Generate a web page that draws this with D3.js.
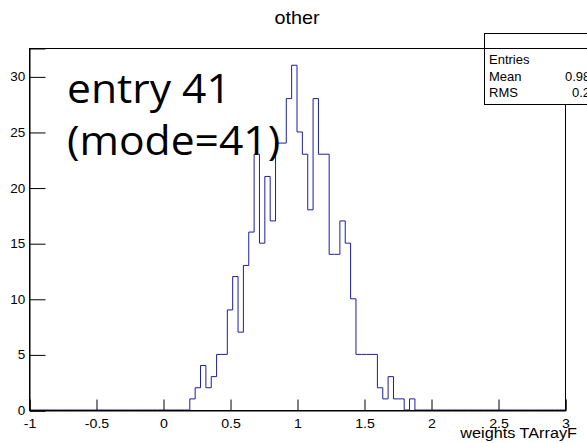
<!DOCTYPE html>
<html><head><meta charset="utf-8">
<script src="https://cdn.jsdelivr.net/npm/d3@7"></script>
<style>body{margin:0;background:#fff} svg{display:block}</style>
</head><body><svg id="c" width="587" height="443"></svg>
<script>
// ---- data ----
const binLow = -1, binHigh = 3, nBins = 100;
const firstFilledBin = 30;
const counts = [1,2,4,2,3,5,5,9,12,7,13,16,23,15,21,17,24,24,28,31,25,23,18,28,23,23,14,14,17,15,10,5,5,5,5,2,1,3,1,1,0,1];
const xTicks = [-1,-0.5,0,0.5,1,1.5,2,2.5,3];
const yTicks = [0,5,10,15,20,25,30];
const title = "other";
const xTitle = "weights TArrayF";
const noteLines = ["entry 41","(mode=41)"];
const statLabels = ["Entries","Mean","RMS"];

// ---- derived ----
const bw = (binHigh - binLow) / nBins;
const bins = d3.range(nBins).map(i => {
  const j = i - firstFilledBin;
  return {lo: binLow + i*bw, hi: binLow + (i+1)*bw, c: (j >= 0 && j < counts.length) ? counts[j] : 0};
});
const N = d3.sum(bins, b => b.c);
const mean = d3.sum(bins, b => b.c*(b.lo+b.hi)/2) / N;
const rms = Math.sqrt(d3.sum(bins, b => b.c*Math.pow((b.lo+b.hi)/2 - mean, 2)) / N);
const ymax = d3.max(bins, b => b.c) * 1.05;

const svg = d3.select("#c");
const L = 29, R = 565, T = 48, B = 410;
const x = d3.scaleLinear().domain([binLow, binHigh]).range([L, R]);
const y = d3.scaleLinear().domain([0, ymax]).range([B, T]);
const font = "'Liberation Sans', Arial, Helvetica, sans-serif";

function stretchText(sel, px, py, sx, txt) {
  return sel.append("text").attr("transform", `translate(${px},${py}) scale(${sx},1)`).text(txt);
}

// histogram outline
const pts = [[binLow, 0]];
bins.forEach(b => { pts.push([b.lo, b.c]); pts.push([b.hi, b.c]); });
pts.push([binHigh, 0]);
svg.append("path")
  .attr("d", d3.line().x(d => x(d[0])).y(d => y(d[1]))(pts))
  .attr("fill", "none").attr("stroke", "#1c1ca8").attr("stroke-width", 1);

// frame
svg.append("rect").attr("x", L+0.5).attr("y", T+0.5).attr("width", R-L).attr("height", B-T)
  .attr("fill", "none").attr("stroke", "#000").attr("stroke-width", 1);

// x axis
const gx = svg.append("g").attr("transform", `translate(0.5,${B+0.5})`);
gx.call(d3.axisBottom(x).tickValues(d3.range(-1, 3.0001, 0.1)).tickSize(-5.5).tickFormat(""));
gx.call(d3.axisBottom(x).tickValues(xTicks).tickSize(-11).tickPadding(8.5).tickFormat(d => String(d)));
gx.selectAll(".domain").attr("stroke", "#000");
gx.selectAll("line").attr("stroke", "#000");
gx.selectAll("text").attr("font-family", font).attr("font-size", 12).attr("fill", "#000")
  .attr("transform", "scale(1.18,1)");

// y axis
const gy = svg.append("g").attr("transform", `translate(${L+0.5},0.5)`);
gy.call(d3.axisLeft(y).tickValues(d3.range(0, Math.floor(ymax)+1, 1)).tickSize(-7).tickFormat(""));
gy.call(d3.axisLeft(y).tickValues(yTicks).tickSize(-16).tickPadding(4).tickFormat(d => String(d)));
gy.selectAll(".domain").attr("stroke", "#000");
gy.selectAll("line").attr("stroke", "#000");
gy.selectAll("text").attr("font-family", font).attr("font-size", 12.5).attr("fill", "#000")
  .attr("transform", "scale(1.08,1)");

// titles
stretchText(svg, 297, 24, 1.1, title).attr("text-anchor", "middle")
  .attr("font-family", font).attr("font-size", 18);
stretchText(svg, 577, 438, 1.16, xTitle).attr("text-anchor", "end")
  .attr("font-family", font).attr("font-size", 14);

// annotation
noteLines.forEach((t, i) => {
  stretchText(svg, 67, 103 + i*52, 1.065, t)
    .attr("font-family", "'Open Sans', sans-serif").attr("font-size", 40).attr("fill", "#000");
});

// stats box
svg.append("rect").attr("x", 484.5).attr("y", 33.5).attr("width", 120).attr("height", 71)
  .attr("fill", "#fff").attr("stroke", "#000");
svg.append("line").attr("x1", 484).attr("x2", 600).attr("y1", 48.5).attr("y2", 48.5).attr("stroke", "#000");
const statVals = [String(N), d3.format(".4f")(mean), d3.format(".4f")(rms)];
const statValX = [592, 565, 572];
statLabels.forEach((s, i) => {
  const yy = 64 + i*16.5;
  svg.append("text").attr("x", 489).attr("y", yy).attr("font-family", font).attr("font-size", 13).text(s);
  svg.append("text").attr("x", statValX[i]).attr("y", yy).attr("font-family", font).attr("font-size", 13).text(statVals[i]);
});
</script></body></html>
